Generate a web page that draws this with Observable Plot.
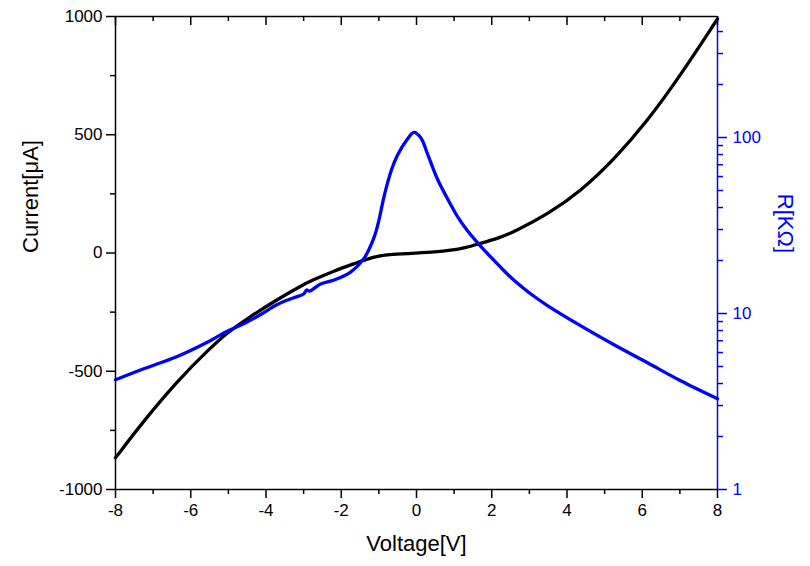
<!DOCTYPE html>
<html>
<head>
<meta charset="utf-8">
<script src="https://cdn.jsdelivr.net/npm/d3@7"></script>
<script src="https://cdn.jsdelivr.net/npm/@observablehq/plot@0.6"></script>
<style>
  html, body { margin: 0; padding: 0; background: #fff; }
  #chart svg { display: block; }
</style>
</head>
<body>
<div id="chart"></div>
<script>
// ---- Data ----
const ivVoltage = [-8, -7.25, -6.36, -5.47, -5.03, -4.59, -3.70, -3.08, -2.81, -2.19, -1.60, -1.31, -1.0, -0.70, 0.02, 0.50, 0.91, 1.30, 1.62, 2.24, 2.60, 3.48, 4.37, 5.25, 6.14, 7.02, 8];
const ivCurrent = [-866, -710, -541, -400, -337, -287, -196, -140, -118, -76, -42, -25, -12, -6, 0, 4, 11, 22, 37, 66, 90, 163, 262, 395, 558, 752, 990];

const rVoltage = [-8, -7.25, -6.36, -5.47, -5.03, -4.59, -4.14, -3.70, -3.26, -3.0, -2.92, -2.85, -2.55, -2.19, -1.75, -1.40, -1.13, -1.0, -0.86, -0.66, -0.51, -0.24, -0.07, 0.11, 0.29, 0.55, 0.91, 1.09, 1.35, 1.62, 1.80, 2.24, 2.42, 2.60, 3.04, 3.48, 4.37, 5.25, 6.14, 7.02, 8];
const rValue   = [4.20, 4.85, 5.70, 7.03, 7.93, 8.74, 9.87, 11.25, 12.3, 12.9, 13.6, 13.4, 14.7, 15.5, 17.2, 20.5, 27.0, 33.8, 46.5, 66, 79, 98, 107, 100, 81, 58.5, 41.5, 35.5, 29.6, 25.3, 22.9, 18.3, 16.7, 15.4, 12.9, 11.1, 8.51, 6.65, 5.25, 4.15, 3.28];

const xDomain = [-8, 8];
const yDomain = [-1000, 1000];
const rDomain = [1, 487];

const xMajorTicks = [-8, -6, -4, -2, 0, 2, 4, 6, 8];
const xMinorTicks = [-7, -5, -3, -1, 1, 3, 5, 7];
const yMajorTicks = [-1000, -500, 0, 500, 1000];
const yMinorTicks = [-750, -250, 250, 750];
const rMajorTicks = [1, 10, 100];
const rMinorTicks = [2, 3, 4, 5, 6, 7, 8, 9, 20, 30, 40, 50, 60, 70, 80, 90, 200, 300, 400];

const xLabel = "Voltage[V]";
const yLabel = "Current[\u03BCA]";
const rLabel = "R[K\u03A9]";

// map log R onto the current scale so both share one y scale
const lr0 = Math.log10(rDomain[0]), lr1 = Math.log10(rDomain[1]);
const toY = r => yDomain[0] + (yDomain[1] - yDomain[0]) * (Math.log10(r) - lr0) / (lr1 - lr0);
const fromY = y => Math.pow(10, lr0 + (y - yDomain[0]) / (yDomain[1] - yDomain[0]) * (lr1 - lr0));

const iv = ivVoltage.map((v, i) => ({v, i: ivCurrent[i]}));
const rr = rVoltage.map((v, i) => ({v, r: rValue[i]}));

const W = 810, H = 566, mT = 16, mB = 77, mL = 115, mR = 93;
const innerH = H - mT - mB;
const BLUE = "#0000ff";
const fontSize = 17;
const titleSize = 22;

const chart = Plot.plot({
  width: W,
  height: H,
  marginTop: mT,
  marginBottom: mB,
  marginLeft: mL,
  marginRight: mR,
  style: {fontFamily: "'Liberation Sans', Arial, sans-serif", fontSize: fontSize + "px", background: "#fff", color: "#000"},
  x: {domain: xDomain},
  y: {domain: yDomain},
  marks: [
    // curves
    Plot.line(iv, {x: "v", y: "i", stroke: "#000", strokeWidth: 3.3, curve: "basis"}),
    Plot.line(rr, {x: "v", y: d => toY(d.r), stroke: BLUE, strokeWidth: 3.3, curve: "catmull-rom"}),

    // frame lines
    Plot.ruleY([yDomain[1]], {stroke: "#000", strokeWidth: 1.5}),
    Plot.ruleY([yDomain[0]], {stroke: "#000", strokeWidth: 1.5}),
    Plot.ruleX([xDomain[0]], {stroke: "#000", strokeWidth: 1.5}),
    Plot.ruleX([xDomain[1]], {stroke: BLUE, strokeWidth: 1.5}),

    // bottom axis
    Plot.axisX(xMajorTicks, {anchor: "bottom", tickSize: 9, tickPadding: 5, strokeWidth: 1.5, tickFormat: d => String(d), label: null, fontSize: fontSize}),
    Plot.axisX(xMinorTicks, {anchor: "bottom", tickSize: 5, strokeWidth: 1.5, text: null, label: null}),
    // top inward ticks
    Plot.ruleX(xMajorTicks, {insetBottom: innerH - 9, stroke: "#000", strokeWidth: 1.5}),
    Plot.ruleX(xMinorTicks, {insetBottom: innerH - 5, stroke: "#000", strokeWidth: 1.5}),

    // left axis
    Plot.axisY(yMajorTicks, {anchor: "left", tickSize: 9, tickPadding: 4, strokeWidth: 1.5, tickFormat: d => String(d), label: null, fontSize: fontSize}),
    Plot.axisY(yMinorTicks, {anchor: "left", tickSize: 5, strokeWidth: 1.5, text: null, label: null}),

    // right (log R) axis
    Plot.axisY(rMajorTicks.map(toY), {anchor: "right", color: BLUE, tickSize: 9, tickPadding: 6, strokeWidth: 1.5, tickFormat: d => String(Math.round(fromY(d))), label: null, fontSize: fontSize}),
    Plot.axisY(rMinorTicks.map(toY), {anchor: "right", color: BLUE, tickSize: 5, strokeWidth: 1.5, text: null, label: null}),

    // axis titles
    Plot.text([xLabel], {frameAnchor: "bottom", dy: 61, fontSize: titleSize, fill: "#000"}),
    Plot.text([yLabel], {frameAnchor: "left", dx: -85, rotate: -90, fontSize: titleSize, fill: "#000"}),
    Plot.text([rLabel], {frameAnchor: "right", dx: 68, rotate: 90, fontSize: titleSize, fill: BLUE})
  ]
});

document.getElementById("chart").appendChild(chart);
</script>
</body>
</html>
